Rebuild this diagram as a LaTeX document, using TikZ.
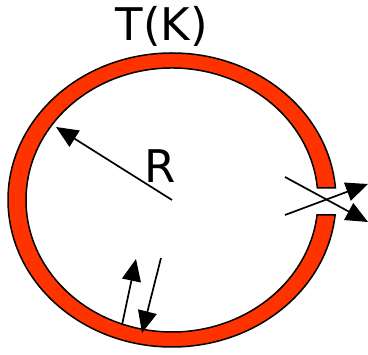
\documentclass[tikz,border=0pt]{standalone}
\usepackage{fontspec}
\setmainfont{DejaVu Sans}
\usetikzlibrary{arrows.meta,calc}
\definecolor{ringred}{RGB}{255,51,0}
\begin{document}
\begin{tikzpicture}
    	[x=1pt, y=1pt,
    	 ring/.style={fill=ringred, draw=black, line width=1.5pt},
    	 arr/.style={-{Triangle[length=22pt, width=19pt]}, line width=1.7pt},
    	 lbl/.style={font=\fontsize{45}{50}\selectfont, inner sep=0pt}]
    	\useasboundingbox (0,0) rectangle (368,355);
    	
    	\coordinate (c) at (172,155);
    	
    	% ring with a gap on the right
    	\path[ring] ($(c)+(4.68:164 and 147)$)
    	    arc[start angle=4.68, end angle=354.14, x radius=164, y radius=147]
    	    -- ($(c)+(-6.52:146 and 132)$)
    	    arc[start angle=353.48, end angle=5.22, x radius=146, y radius=132]
    	    -- cycle;
    	
    	\node[lbl] (t) at (162,329) {T(K)};
    	\node[lbl] (r) at (160,189) {R};
    	
    	\coordinate (rtip) at (56,228);
    	\coordinate (ga) at (285,178);
    	\coordinate (gatip) at (368,133);
    	\coordinate (gb) at (285,140);
    	\coordinate (gbtip) at (368,171);
    	\coordinate (ua) at (122,30);
    	\coordinate (uatip) at (136,96);
    	\coordinate (da) at (161,97);
    	\coordinate (datip) at (142,22);
    	
    	\draw[arr] (c) -- (rtip);
    	\draw[arr] (ga) -- (gatip);
    	\draw[arr] (gb) -- (gbtip);
    	\draw[arr] (ua) -- (uatip);
    	\draw[arr] (da) -- (datip);
    \end{tikzpicture}
\end{document}
